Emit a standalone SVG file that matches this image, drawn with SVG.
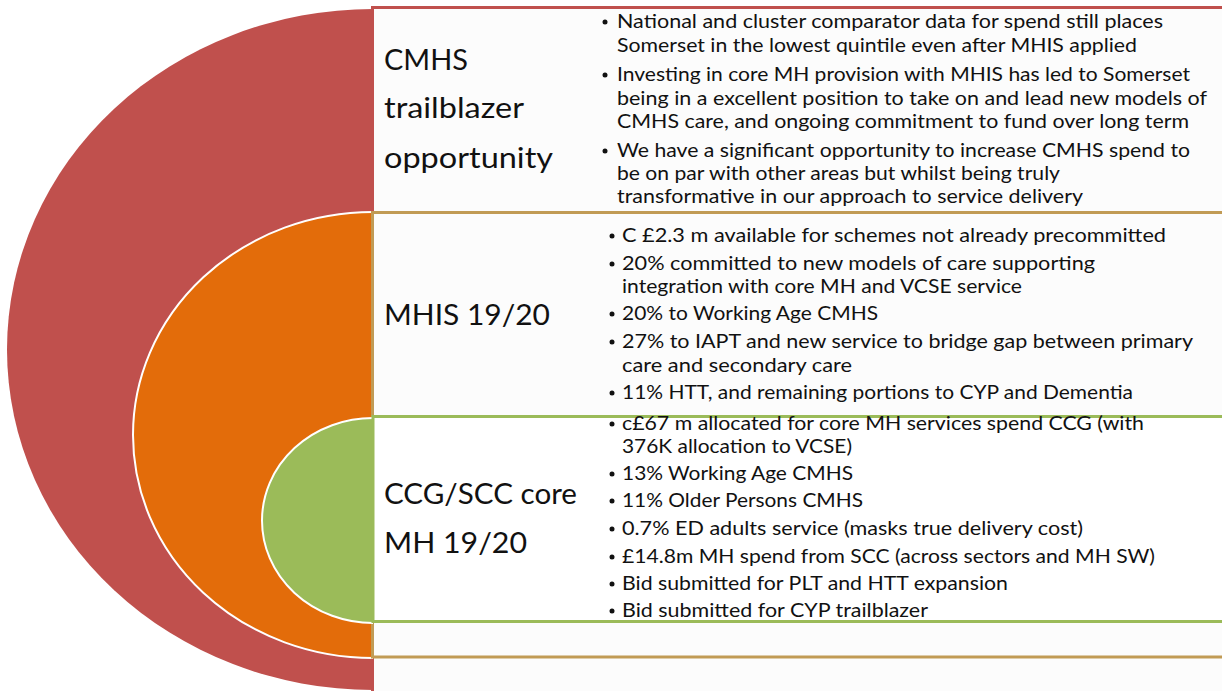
<svg xmlns="http://www.w3.org/2000/svg" width="1222" height="691" viewBox="0 0 1222 691">
<style>
.t{font-family:Lato,"Liberation Sans",sans-serif;font-size:20px;fill:#111}
.h{font-family:Lato,"Liberation Sans",sans-serif;font-size:28px;fill:#111}
.b{fill:#111}
</style>
<rect width="1222" height="691" fill="#fff"/>
<g id="outer">
<path d="M373,9 A366,340.5 0 0 0 373,690 Z" fill="#C0504D"/>
<rect x="372.5" y="7.5" width="860" height="690" fill="#FCFCFC" stroke="#C0504D" stroke-width="3"/>
<text class="h" x="384" y="70" textLength="84" lengthAdjust="spacingAndGlyphs">CMHS</text>
<text class="h" x="384" y="118" textLength="140" lengthAdjust="spacingAndGlyphs">trailblazer</text>
<text class="h" x="384" y="168" textLength="169" lengthAdjust="spacingAndGlyphs">opportunity</text>
<circle class="b" cx="605" cy="22" r="2.5"/>
<circle class="b" cx="605" cy="75" r="2.5"/>
<circle class="b" cx="605" cy="151" r="2.5"/>
<text class="t" x="617" y="28" textLength="546" lengthAdjust="spacingAndGlyphs">National and cluster comparator data for spend still places</text>
<text class="t" x="617" y="52" textLength="520" lengthAdjust="spacingAndGlyphs">Somerset in the lowest quintile even after MHIS applied</text>
<text class="t" x="617" y="81" textLength="573" lengthAdjust="spacingAndGlyphs">Investing in core MH provision with MHIS has led to Somerset</text>
<text class="t" x="617" y="105" textLength="590" lengthAdjust="spacingAndGlyphs">being in a excellent position to take on and lead new models of</text>
<text class="t" x="617" y="128" textLength="572" lengthAdjust="spacingAndGlyphs">CMHS care, and ongoing commitment to fund over long term</text>
<text class="t" x="617" y="157" textLength="573" lengthAdjust="spacingAndGlyphs">We have a significant opportunity to increase CMHS spend to</text>
<text class="t" x="617" y="180" textLength="443" lengthAdjust="spacingAndGlyphs">be on par with other areas but whilst being truly</text>
<text class="t" x="617" y="203" textLength="466" lengthAdjust="spacingAndGlyphs">transformative in our approach to service delivery</text>
</g>
<g id="middle">
<path d="M373,212 A240,223 0 0 0 373,658" fill="#E36C0A" stroke="#fff" stroke-width="2"/>
<rect x="372.5" y="212.5" width="860" height="444.5" fill="#FCFCFC" stroke="#C19B55" stroke-width="3"/>
<text class="h" x="384" y="325" textLength="166" lengthAdjust="spacingAndGlyphs">MHIS 19/20</text>
<circle class="b" cx="612" cy="236" r="2.5"/>
<circle class="b" cx="612" cy="264" r="2.5"/>
<circle class="b" cx="612" cy="314" r="2.5"/>
<circle class="b" cx="612" cy="342" r="2.5"/>
<circle class="b" cx="612" cy="393" r="2.5"/>
<text class="t" x="622" y="242" textLength="544" lengthAdjust="spacingAndGlyphs">C £2.3 m available for schemes not already precommitted</text>
<text class="t" x="622" y="270" textLength="473" lengthAdjust="spacingAndGlyphs">20% committed to new models of care supporting</text>
<text class="t" x="622" y="293" textLength="400" lengthAdjust="spacingAndGlyphs">integration with core MH and VCSE service</text>
<text class="t" x="622" y="320" textLength="256" lengthAdjust="spacingAndGlyphs">20% to Working Age CMHS</text>
<text class="t" x="622" y="348" textLength="571" lengthAdjust="spacingAndGlyphs">27% to IAPT and new service to bridge gap between primary</text>
<text class="t" x="622" y="372" textLength="230" lengthAdjust="spacingAndGlyphs">care and secondary care</text>
<text class="t" x="622" y="399" textLength="511" lengthAdjust="spacingAndGlyphs">11% HTT, and remaining portions to CYP and Dementia</text>
</g>
<g id="inner">
<path d="M373,418 A111,102.5 0 0 0 373,623" fill="#9BBB59" stroke="#fff" stroke-width="2"/>
<rect x="373" y="416.5" width="860" height="205" fill="#fff" stroke="#9BBB59" stroke-width="3"/>
<text class="h" x="384" y="504" textLength="193" lengthAdjust="spacingAndGlyphs">CCG/SCC core</text>
<text class="h" x="384" y="553" textLength="143" lengthAdjust="spacingAndGlyphs">MH 19/20</text>
<circle class="b" cx="612" cy="424" r="2.5"/>
<circle class="b" cx="612" cy="474" r="2.5"/>
<circle class="b" cx="612" cy="501" r="2.5"/>
<circle class="b" cx="612" cy="529" r="2.5"/>
<circle class="b" cx="612" cy="557" r="2.5"/>
<circle class="b" cx="612" cy="584" r="2.5"/>
<circle class="b" cx="612" cy="611" r="2.5"/>
<text class="t" x="622" y="430" textLength="522" lengthAdjust="spacingAndGlyphs">c£67 m allocated for core MH services spend CCG (with</text>
<text class="t" x="622" y="453" textLength="230" lengthAdjust="spacingAndGlyphs">376K allocation to VCSE)</text>
<text class="t" x="622" y="480" textLength="231" lengthAdjust="spacingAndGlyphs">13% Working Age CMHS</text>
<text class="t" x="622" y="507" textLength="241" lengthAdjust="spacingAndGlyphs">11% Older Persons CMHS</text>
<text class="t" x="622" y="535" textLength="461" lengthAdjust="spacingAndGlyphs">0.7% ED adults service (masks true delivery cost)</text>
<text class="t" x="622" y="563" textLength="533" lengthAdjust="spacingAndGlyphs">£14.8m MH spend from SCC (across sectors and MH SW)</text>
<text class="t" x="622" y="590" textLength="386" lengthAdjust="spacingAndGlyphs">Bid submitted for PLT and HTT expansion</text>
<text class="t" x="622" y="617" textLength="306" lengthAdjust="spacingAndGlyphs">Bid submitted for CYP trailblazer</text>
</g>
<g id="connectors"/>
</svg>
